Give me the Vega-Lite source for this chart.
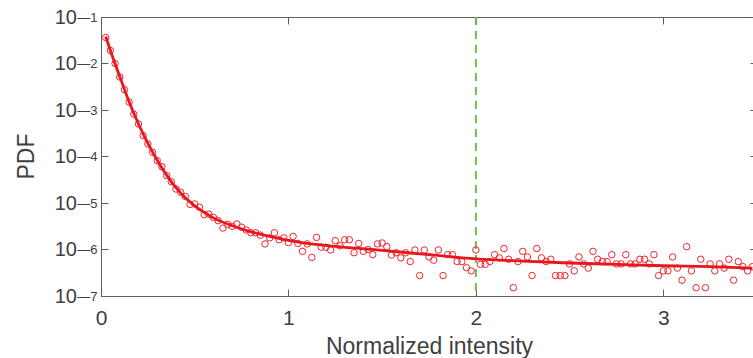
{
  "$schema": "https://vega.github.io/schema/vega-lite/v6.json",
  "autosize": {"type": "none"},
  "padding": {"left": 101, "top": 17, "right": 0, "bottom": 62},
  "width": 652,
  "height": 279,
  "background": "white",
  "config": {
    "view": {"stroke": null},
    "axis": {
      "grid": false,
      "labelFont": "Liberation Sans",
      "titleFont": "Liberation Sans",
      "titleFontWeight": "normal",
      "domainColor": "#5f5f5f",
      "tickColor": "#5f5f5f",
      "labelColor": "#404040",
      "titleColor": "#404040",
      "labelFlush": false,
      "labelOverlap": false
    }
  },
  "datasets": {
    "pts": [
      {"x": 0.025, "p": 3.63e-2}, {"x": 0.05, "p": 1.91e-2}, {"x": 0.075, "p": 1.00e-2}, {"x": 0.1, "p": 5.13e-3},
      {"x": 0.125, "p": 2.75e-3}, {"x": 0.15, "p": 1.48e-3}, {"x": 0.175, "p": 8.13e-4}, {"x": 0.2, "p": 5.01e-4},
      {"x": 0.225, "p": 2.82e-4}, {"x": 0.25, "p": 1.86e-4}, {"x": 0.275, "p": 1.23e-4}, {"x": 0.3, "p": 8.13e-5},
      {"x": 0.325, "p": 6.03e-5}, {"x": 0.35, "p": 3.89e-5}, {"x": 0.375, "p": 2.88e-5}, {"x": 0.4, "p": 2.00e-5},
      {"x": 0.425, "p": 1.70e-5}, {"x": 0.45, "p": 1.38e-5}, {"x": 0.475, "p": 9.33e-6}, {"x": 0.5, "p": 9.55e-6},
      {"x": 0.525, "p": 8.13e-6}, {"x": 0.55, "p": 5.62e-6}, {"x": 0.575, "p": 5.75e-6}, {"x": 0.6, "p": 4.90e-6},
      {"x": 0.625, "p": 4.17e-6}, {"x": 0.65, "p": 2.88e-6}, {"x": 0.675, "p": 3.47e-6}, {"x": 0.7, "p": 3.16e-6},
      {"x": 0.725, "p": 3.55e-6}, {"x": 0.75, "p": 3.02e-6}, {"x": 0.775, "p": 2.63e-6}, {"x": 0.8, "p": 2.29e-6},
      {"x": 0.825, "p": 2.29e-6}, {"x": 0.85, "p": 2.04e-6}, {"x": 0.875, "p": 1.32e-6}, {"x": 0.9, "p": 1.78e-6},
      {"x": 0.925, "p": 2.29e-6}, {"x": 0.95, "p": 1.62e-6}, {"x": 0.975, "p": 1.78e-6}, {"x": 1.0, "p": 1.41e-6},
      {"x": 1.025, "p": 1.91e-6}, {"x": 1.05, "p": 1.35e-6}, {"x": 1.075, "p": 9.12e-7}, {"x": 1.1, "p": 1.32e-6},
      {"x": 1.125, "p": 6.76e-7}, {"x": 1.15, "p": 1.82e-6}, {"x": 1.175, "p": 1.12e-6}, {"x": 1.2, "p": 1.12e-6},
      {"x": 1.225, "p": 9.77e-7}, {"x": 1.25, "p": 1.55e-6}, {"x": 1.275, "p": 1.20e-6}, {"x": 1.3, "p": 1.62e-6},
      {"x": 1.325, "p": 1.62e-6}, {"x": 1.35, "p": 8.51e-7}, {"x": 1.375, "p": 1.35e-6}, {"x": 1.4, "p": 9.12e-7},
      {"x": 1.425, "p": 1.00e-6}, {"x": 1.45, "p": 7.76e-7}, {"x": 1.475, "p": 1.32e-6}, {"x": 1.5, "p": 1.38e-6},
      {"x": 1.525, "p": 1.15e-6}, {"x": 1.55, "p": 7.59e-7}, {"x": 1.575, "p": 8.51e-7}, {"x": 1.6, "p": 6.61e-7},
      {"x": 1.625, "p": 8.51e-7}, {"x": 1.65, "p": 5.50e-7}, {"x": 1.675, "p": 9.77e-7}, {"x": 1.7, "p": 2.75e-7},
      {"x": 1.725, "p": 9.77e-7}, {"x": 1.75, "p": 6.92e-7}, {"x": 1.775, "p": 5.89e-7}, {"x": 1.8, "p": 9.77e-7},
      {"x": 1.825, "p": 2.75e-7}, {"x": 1.85, "p": 7.76e-7}, {"x": 1.875, "p": 7.76e-7}, {"x": 1.9, "p": 5.50e-7},
      {"x": 1.925, "p": 5.50e-7}, {"x": 1.95, "p": 4.07e-7}, {"x": 1.975, "p": 3.47e-7}, {"x": 2.0, "p": 9.77e-7},
      {"x": 2.025, "p": 4.79e-7}, {"x": 2.05, "p": 4.79e-7}, {"x": 2.075, "p": 5.50e-7}, {"x": 2.1, "p": 7.76e-7},
      {"x": 2.125, "p": 6.61e-7}, {"x": 2.15, "p": 1.05e-6}, {"x": 2.175, "p": 6.17e-7}, {"x": 2.2, "p": 1.51e-7},
      {"x": 2.225, "p": 5.50e-7}, {"x": 2.25, "p": 9.12e-7}, {"x": 2.275, "p": 6.92e-7}, {"x": 2.3, "p": 2.75e-7},
      {"x": 2.325, "p": 1.05e-6}, {"x": 2.35, "p": 6.61e-7}, {"x": 2.375, "p": 5.50e-7}, {"x": 2.4, "p": 6.17e-7},
      {"x": 2.425, "p": 2.75e-7}, {"x": 2.45, "p": 2.75e-7}, {"x": 2.475, "p": 2.75e-7}, {"x": 2.5, "p": 4.90e-7},
      {"x": 2.525, "p": 3.47e-7}, {"x": 2.55, "p": 6.92e-7}, {"x": 2.575, "p": 4.90e-7}, {"x": 2.6, "p": 3.98e-7},
      {"x": 2.625, "p": 9.12e-7}, {"x": 2.65, "p": 6.17e-7}, {"x": 2.675, "p": 5.50e-7}, {"x": 2.7, "p": 5.50e-7},
      {"x": 2.725, "p": 7.76e-7}, {"x": 2.75, "p": 4.90e-7}, {"x": 2.775, "p": 4.90e-7}, {"x": 2.8, "p": 7.76e-7},
      {"x": 2.825, "p": 4.90e-7}, {"x": 2.85, "p": 4.90e-7}, {"x": 2.875, "p": 6.17e-7}, {"x": 2.9, "p": 6.17e-7},
      {"x": 2.925, "p": 4.90e-7}, {"x": 2.95, "p": 7.76e-7}, {"x": 2.975, "p": 2.75e-7}, {"x": 3.0, "p": 3.47e-7},
      {"x": 3.025, "p": 3.47e-7}, {"x": 3.05, "p": 6.92e-7}, {"x": 3.075, "p": 3.98e-7}, {"x": 3.1, "p": 2.19e-7},
      {"x": 3.125, "p": 1.15e-6}, {"x": 3.15, "p": 3.47e-7}, {"x": 3.175, "p": 1.51e-7}, {"x": 3.2, "p": 6.17e-7},
      {"x": 3.225, "p": 1.51e-7}, {"x": 3.25, "p": 4.90e-7}, {"x": 3.275, "p": 3.47e-7}, {"x": 3.3, "p": 4.90e-7},
      {"x": 3.325, "p": 3.98e-7}, {"x": 3.35, "p": 6.17e-7}, {"x": 3.375, "p": 2.19e-7}, {"x": 3.4, "p": 5.50e-7},
      {"x": 3.425, "p": 4.27e-7}, {"x": 3.45, "p": 3.47e-7}, {"x": 3.475, "p": 4.27e-7}
    ],
    "fit": [
      {"x": 0.025, "p": 3.80e-2}, {"x": 0.05, "p": 1.91e-2}, {"x": 0.1, "p": 5.25e-3}, {"x": 0.15, "p": 1.51e-3},
      {"x": 0.2, "p": 5.01e-4}, {"x": 0.25, "p": 1.91e-4}, {"x": 0.3, "p": 8.32e-5}, {"x": 0.35, "p": 3.98e-5},
      {"x": 0.4, "p": 2.14e-5}, {"x": 0.45, "p": 1.29e-5}, {"x": 0.5, "p": 8.71e-6}, {"x": 0.55, "p": 6.31e-6},
      {"x": 0.6, "p": 4.79e-6}, {"x": 0.7, "p": 3.24e-6}, {"x": 0.8, "p": 2.40e-6}, {"x": 0.9, "p": 1.91e-6},
      {"x": 1.0, "p": 1.58e-6}, {"x": 1.1, "p": 1.35e-6}, {"x": 1.25, "p": 1.17e-6}, {"x": 1.5, "p": 9.55e-7},
      {"x": 1.75, "p": 7.76e-7}, {"x": 2.0, "p": 6.31e-7}, {"x": 2.25, "p": 5.62e-7}, {"x": 2.5, "p": 5.13e-7},
      {"x": 2.75, "p": 4.79e-7}, {"x": 3.0, "p": 4.47e-7}, {"x": 3.25, "p": 4.27e-7}, {"x": 3.475, "p": 3.98e-7}
    ],
    "marker": [{"x": 2}]
  },
  "layer": [
    {
      "data": {"name": "marker"},
      "mark": {"type": "rule", "color": "#72bb4c", "strokeWidth": 2, "strokeDash": [8, 6]},
      "encoding": {
        "x": {"field": "x", "type": "quantitative", "scale": {"domain": [0, 3.5], "range": [0, 656], "nice": false, "zero": false}, "axis": null}
      }
    },
    {
      "data": {"name": "pts"},
      "mark": {"type": "point", "shape": "circle", "filled": false, "size": 42, "strokeWidth": 1, "color": "#f2232a", "opacity": 1},
      "encoding": {
        "x": {
          "field": "x", "type": "quantitative",
          "scale": {"domain": [0, 3.5], "range": [0, 656], "nice": false, "zero": false},
          "axis": {
            "orient": "bottom", "values": [0, 1, 2, 3], "format": "d",
            "tickSize": -7, "labelPadding": 18.4, "labelFontSize": 21,
            "title": "Normalized intensity", "titleFontSize": 23,
            "titleX": 328, "titleY": 57, "titleBaseline": "alphabetic", "titleAlign": "center"
          }
        },
        "y": {
          "field": "p", "type": "quantitative",
          "scale": {"type": "log", "domain": [1e-7, 0.1], "nice": false},
          "axis": {
            "orient": "left", "values": [1e-7, 1e-6, 1e-5, 1e-4, 1e-3, 1e-2, 1e-1],
            "labelExpr": "'10'", "tickSize": -7, "labelPadding": 31.5, "labelFontSize": 20,
            "labelBaseline": "middle", "labelDy": 1.5,
            "title": "PDF", "titleFontSize": 23, "titleAngle": 270,
            "titleX": -67.7, "titleY": 139, "titleBaseline": "alphabetic", "titleAlign": "center"
          }
        }
      }
    },
    {
      "data": {"name": "fit"},
      "mark": {"type": "line", "color": "#e8161d", "strokeWidth": 2.8, "interpolate": "monotone"},
      "encoding": {
        "x": {
          "field": "x", "type": "quantitative",
          "scale": {"domain": [0, 3.5], "range": [0, 656], "nice": false, "zero": false},
          "axis": {"orient": "top", "values": [0, 1, 2, 3], "labels": false, "tickSize": -7, "title": null}
        },
        "y": {
          "field": "p", "type": "quantitative",
          "scale": {"type": "log", "domain": [1e-7, 0.1], "nice": false},
          "axis": {"orient": "right", "values": [1e-7, 1e-6, 1e-5, 1e-4, 1e-3, 1e-2, 1e-1], "labels": false, "tickSize": -7, "offset": 4, "title": null}
        }
      }
    },
    {
      "data": {"name": "fit"},
      "mark": {"type": "point", "opacity": 0},
      "encoding": {
        "x": {"field": "x", "type": "quantitative", "scale": {"domain": [0, 3.5], "range": [0, 656], "nice": false, "zero": false}, "axis": null},
        "y": {
          "field": "p", "type": "quantitative",
          "scale": {"type": "log", "domain": [1e-7, 0.1], "nice": false},
          "axis": {
            "orient": "left", "values": [1e-7, 1e-6, 1e-5, 1e-4, 1e-3, 1e-2, 1e-1],
            "labelExpr": "['—7','—6','—5','—4','—3','—2','—1'][round(log(datum.value)/LN10)+7]",
            "ticks": false, "domain": false, "labelPadding": 4, "labelFontSize": 13,
            "labelBaseline": "middle", "labelDy": -3, "labelAlign": "right", "title": null
          }
        }
      }
    }
  ],
  "resolve": {"axis": {"x": "independent", "y": "independent"}, "scale": {"x": "shared", "y": "shared"}}
}
